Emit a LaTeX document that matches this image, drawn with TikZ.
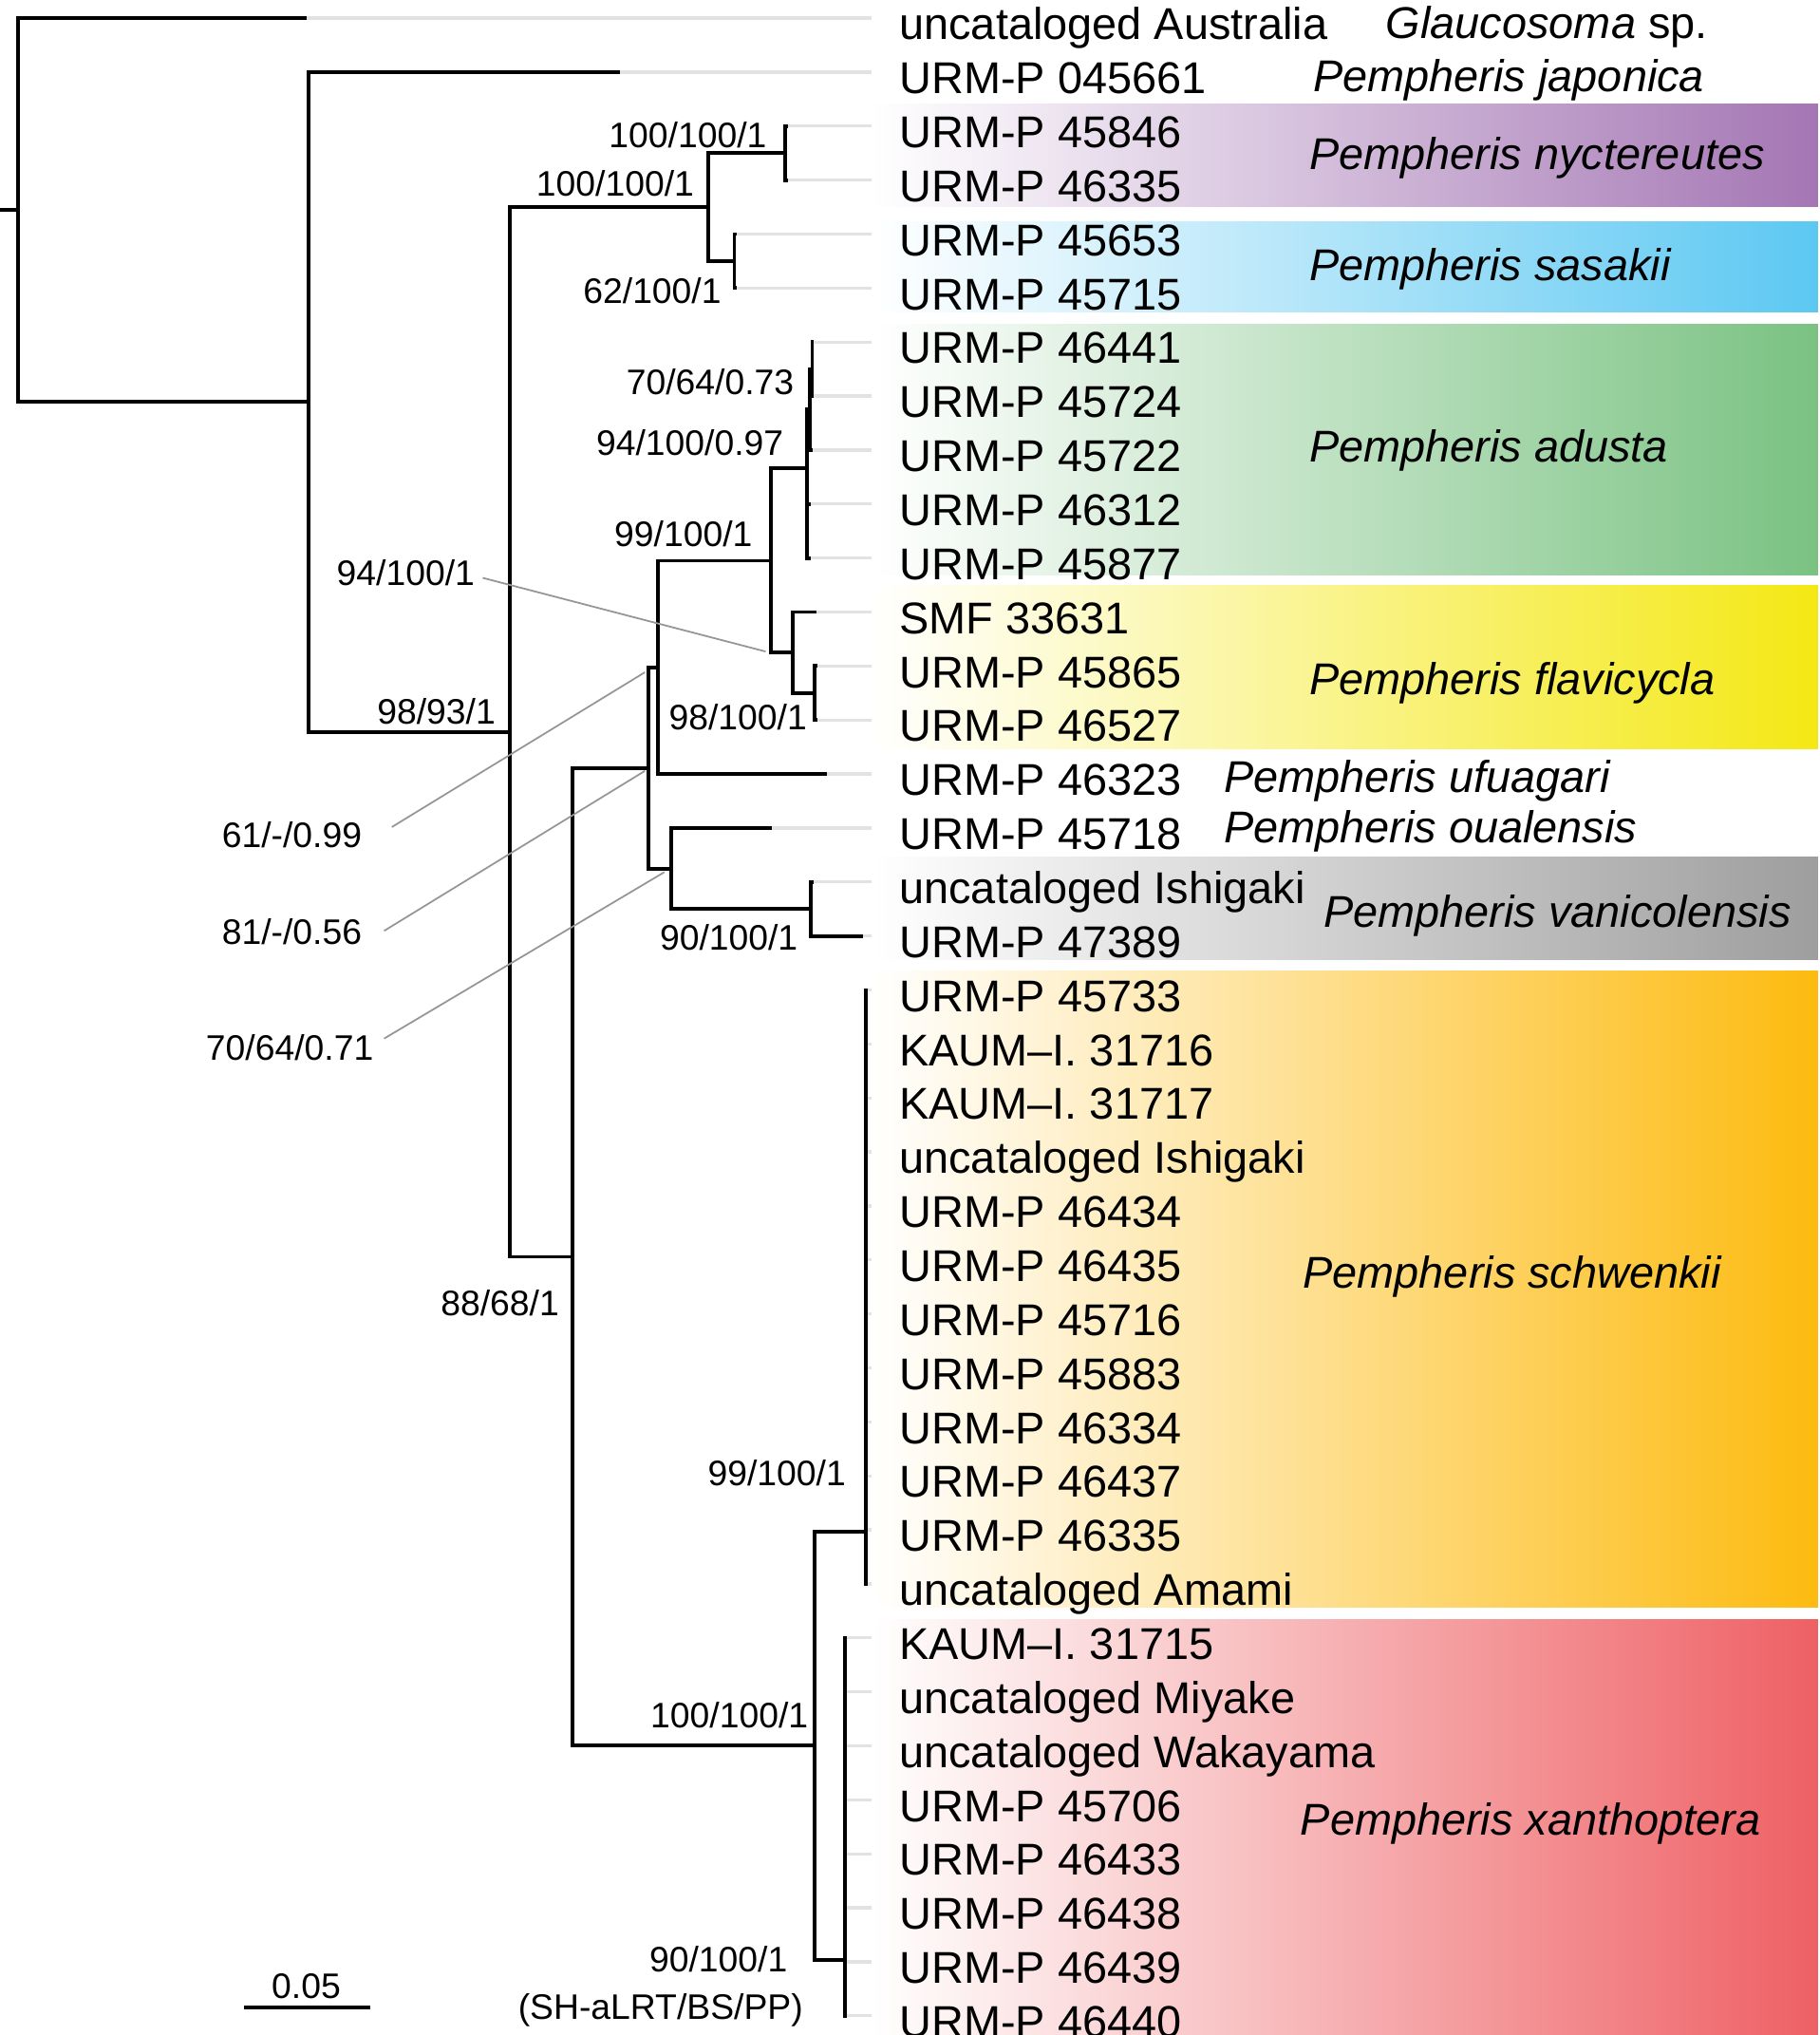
\documentclass[tikz,border=0pt]{standalone}
\usepackage{fontspec}
\setmainfont{Liberation Sans}
\usetikzlibrary{positioning}
\definecolor{nyctpurple}{RGB}{164,118,180}
\definecolor{sasablue}{RGB}{92,200,242}
\definecolor{adustgreen}{RGB}{122,194,130}
\definecolor{flavyellow}{RGB}{244,232,20}
\definecolor{vanigray}{RGB}{158,158,158}
\definecolor{schworange}{RGB}{253,187,16}
\definecolor{xanthred}{RGB}{238,96,100}
\definecolor{tipgray}{RGB}{226,226,226}
\definecolor{leadgray}{RGB}{150,150,150}

\tikzset{
  branch/.style={line width=2.8pt,black},
  tipline/.style={line width=2.4pt,tipgray},
  leader/.style={line width=1.3pt,leadgray},
  leaf/.style={anchor=base west,inner xsep=21pt,inner ysep=0pt,
               font=\fontsize{34.3}{40}\selectfont},
  species/.style={anchor=base west,inner sep=0pt,
                  font=\fontsize{34.3}{40}\selectfont\itshape},
  support/.style={anchor=base east,inner sep=0pt,
                  font=\fontsize{27.3}{32}\selectfont},
  cladebox/.style={left color=white,right color=#1}
}

\begin{document}
\begin{tikzpicture}[x=1pt,y=-1pt]
  \useasboundingbox (0,0) rectangle (1402,1568);

  % clade boxes
  \shade[cladebox=nyctpurple] (672,80) rectangle (1401,159);
  \shade[cladebox=sasablue] (672,171) rectangle (1401,240);
  \shade[cladebox=adustgreen] (672,250) rectangle (1401,443);
  \shade[cladebox=flavyellow] (672,451) rectangle (1401,577);
  \shade[cladebox=vanigray] (672,660) rectangle (1401,739);
  \shade[cladebox=schworange] (672,748) rectangle (1401,1238);
  \shade[cladebox=xanthred] (672,1248) rectangle (1401,1568);

  % leaves
  \foreach \i/\lab/\tx in {1/uncataloged Australia/236, 2/URM-P 045661/478,
      3/URM-P 45846/607, 4/URM-P 46335/607, 5/URM-P 45653/568, 6/URM-P 45715/568,
      7/URM-P 46441/627, 8/URM-P 45724/627, 9/URM-P 45722/626, 10/URM-P 46312/625,
      11/URM-P 45877/625, 12/SMF 33631/629, 13/URM-P 45865/630, 14/URM-P 46527/630,
      15/URM-P 46323/637, 16/URM-P 45718/595, 17/uncataloged Ishigaki/627,
      18/URM-P 47389/665, 19/URM-P 45733/669, 20/KAUM–I. 31716/669,
      21/KAUM–I. 31717/669, 22/uncataloged Ishigaki/669, 23/URM-P 46434/669,
      24/URM-P 46435/669, 25/URM-P 45716/669, 26/URM-P 45883/669,
      27/URM-P 46334/669, 28/URM-P 46437/669, 29/URM-P 46335/669,
      30/uncataloged Amami/669, 31/KAUM–I. 31715/653, 32/uncataloged Miyake/653,
      33/uncataloged Wakayama/653, 34/URM-P 45706/653, 35/URM-P 46433/653,
      36/URM-P 46438/653, 37/URM-P 46439/653, 38/URM-P 46440/653}{
    \pgfmathsetmacro\ry{14+(\i-1)*41.6}
    \coordinate (t\i) at (\tx,\ry);
    \node[leaf] (l\i) at (672,{\ry+16.6}) {\lab};
    \draw[tipline] (t\i) -- (t\i -| l\i.west);
  }

  % internal nodes
  \coordinate (root) at (0,161.9);
  \coordinate (n0) at (14,161.9);
  \coordinate (nA) at (238,309.8);
  \coordinate (nB) at (393,564);
  \coordinate (nC) at (546,159.6);
  \coordinate (nD) at (605,118);
  \coordinate (nE) at (566,201.2);
  \coordinate (nF) at (441,968.4);
  \coordinate (nH2) at (500,591.7);
  \coordinate (nH1) at (507,514.2);
  \coordinate (nK) at (594,432);
  \coordinate (nP) at (622,361);
  \coordinate (nN) at (624,315.6);
  \coordinate (nM) at (626,284.4);
  \coordinate (nQ) at (611,502.8);
  \coordinate (nR) at (628,534);
  \coordinate (nI) at (517,669.2);
  \coordinate (nJ) at (625,700.4);
  \coordinate (nS) at (628,1345);
  \coordinate (nT) at (667,1180);
  \coordinate (nU) at (651,1510);

  % branches
  \draw[branch] (root) -- (n0);
  \foreach \p/\c in {n0/t1, n0/nA, nA/t2, nA/nB, nB/nC, nB/nF, nC/nD, nC/nE,
      nD/t3, nD/t4, nE/t5, nE/t6, nF/nH2, nF/nS, nH2/nH1, nH2/nI, nH1/nK,
      nH1/t15, nK/nP, nK/nQ, nP/nN, nP/t10, nP/t11, nN/nM, nN/t9, nM/t7,
      nM/t8, nQ/t12, nQ/nR, nR/t13, nR/t14, nI/t16, nI/nJ, nJ/t17, nJ/t18,
      nS/nT, nS/nU}
    \draw[branch] (\p) |- (\c);
  \foreach \c in {19,...,30}
    \draw[branch] (nT) |- (t\c);
  \foreach \c in {31,...,38}
    \draw[branch] (nU) |- (t\c);

  % support values
  \node[support] (s1) at (591,114) {100/100/1};
  \node[support] (s2) at (535,151) {100/100/1};
  \node[support] (s3) at (556,234) {62/100/1};
  \node[support] (s4) at (612,304) {70/64/0.73};
  \node[support] (s5) at (604,351) {94/100/0.97};
  \node[support] (s6) at (580,421) {99/100/1};
  \node[support] (s7) at (366,451) {94/100/1};
  \node[support] (s8) at (622,562) {98/100/1};
  \node[support] (s9) at (382,558) {98/93/1};
  \node[support] (s10) at (279,653) {61/-/0.99};
  \node[support] (s11) at (279,728) {81/-/0.56};
  \node[support] (s12) at (288,817) {70/64/0.71};
  \node[support] (s13) at (615,732) {90/100/1};
  \node[support] (s14) at (431,1014) {88/68/1};
  \node[support] (s15) at (652,1145) {99/100/1};
  \node[support] (s16) at (623,1331) {100/100/1};
  \node[support] (s17) at (607,1519) {90/100/1};
  \node[support] (key) at (619,1556) {(SH-aLRT/BS/PP)};

  % leader lines
  \coordinate (kpt) at (590,502);
  \coordinate (h1pt) at (497,518);
  \coordinate (h2pt) at (497,594);
  \coordinate (ipt) at (512,672);
  \draw[leader] ([xshift=6pt,yshift=-4pt]s7.east) -- (kpt);
  \draw[leader] ([xshift=23pt,yshift=6pt]s10.east) -- (h1pt);
  \draw[leader] ([xshift=17pt,yshift=1pt]s11.east) -- (h2pt);
  \draw[leader] ([xshift=8pt,yshift=7pt]s12.east) -- (ipt);

  % species names
  \node[species] (g1) at (1068,29.3) {Glaucosoma\/ \upshape sp.};
  \node[species] (g2) at (1012,70.3) {Pempheris japonica};
  \node[species] (g3) at (1009,130.3) {Pempheris nyctereutes};
  \node[species] (g4) at (1009,216.3) {Pempheris sasakii};
  \node[species] (g5) at (1009,356.3) {Pempheris adusta};
  \node[species] (g6) at (1009,535.3) {Pempheris flavicycla};
  \node[species] (g7) at (943,610.3) {Pempheris ufuagari};
  \node[species] (g8) at (943,649.3) {Pempheris oualensis};
  \node[species] (g9) at (1020,714.3) {Pempheris vanicolensis};
  \node[species] (g10) at (1004,992.3) {Pempheris schwenkii};
  \node[species] (g11) at (1002,1414.3) {Pempheris xanthoptera};

  % scale bar
  \coordinate (sbl) at (188,1547);
  \coordinate (sbr) at (285,1547);
  \draw[branch] (sbl) -- (sbr);
  \node[support,anchor=base] (sblab) at (236,1540) {0.05};
\end{tikzpicture}
\end{document}
